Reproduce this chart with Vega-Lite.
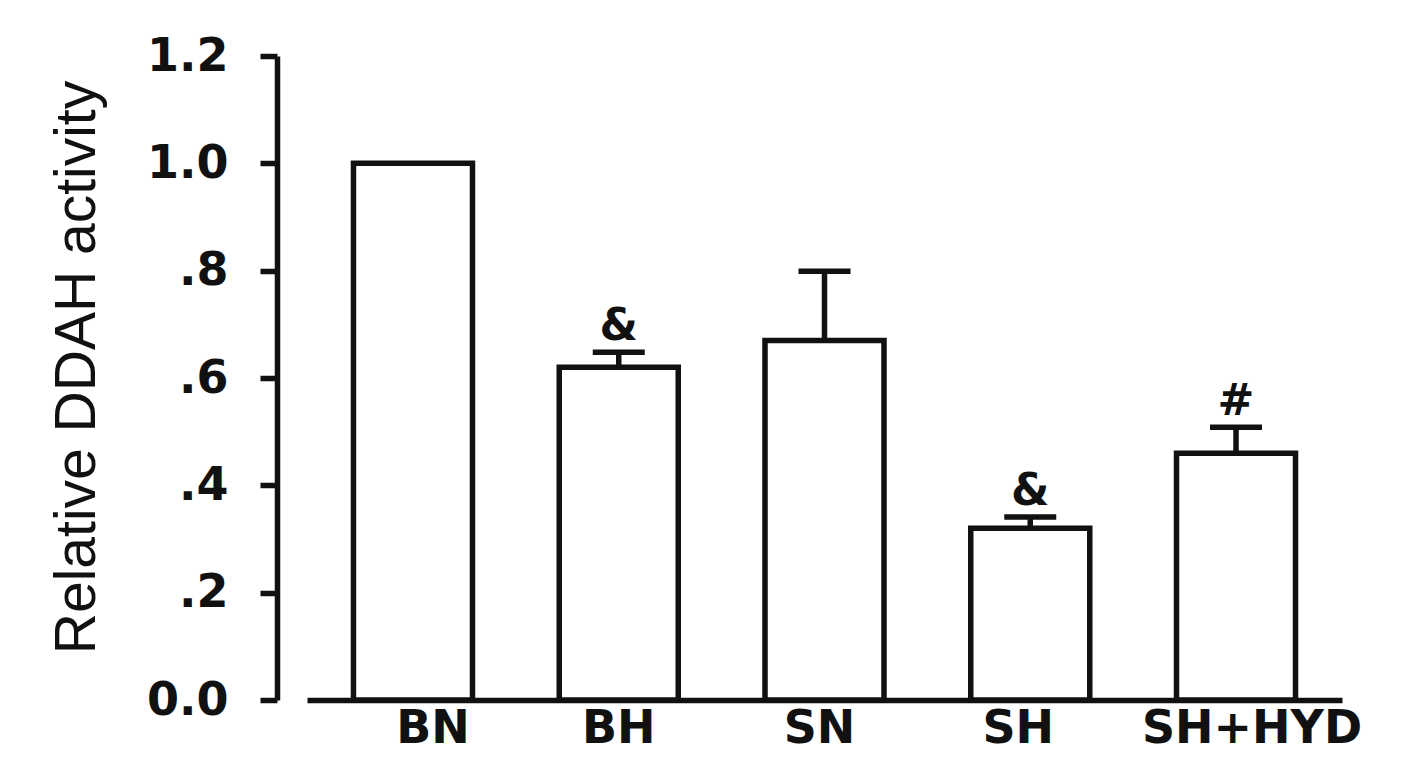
{
  "$schema": "https://vega.github.io/schema/vega-lite/v6.json",
  "autosize": {"type": "none"},
  "padding": {"left": 307, "top": 56, "right": 69, "bottom": 67},
  "width": 1035,
  "height": 644,
  "background": "white",
  "data": {
    "values": [
      {"group": "BN", "value": 1.0, "upper": null, "sig": ""},
      {"group": "BH", "value": 0.62, "upper": 0.648, "sig": "&"},
      {"group": "SN", "value": 0.67, "upper": 0.799, "sig": ""},
      {"group": "SH", "value": 0.32, "upper": 0.341, "sig": "&"},
      {"group": "SH+HYD", "value": 0.46, "upper": 0.508, "sig": "#"}
    ]
  },
  "encoding": {
    "x": {
      "field": "group",
      "type": "nominal",
      "sort": null,
      "scale": {"paddingInner": 0.4216, "paddingOuter": 0.2259},
      "axis": {
        "title": null,
        "labelAngle": 0,
        "ticks": false,
        "domainColor": "#111",
        "domainWidth": 5.5,
        "labelFont": "DejaVu Sans",
        "labelFontWeight": "bold",
        "labelFontSize": 46,
        "labelColor": "#111",
        "labelPadding": 6,
        "labelLimit": 0,
        "labelBaseline": "top",
        "labelOffset": {"expr": "datum.value == 'BN' ? 20 : datum.value == 'SN' ? -5 : datum.value == 'SH' ? -12 : datum.value == 'SH+HYD' ? 16 : 0"}
      }
    }
  },
  "layer": [
    {
      "mark": {"type": "bar", "fill": "white", "stroke": "#111", "strokeWidth": 5.5},
      "encoding": {
        "y": {
          "field": "value",
          "type": "quantitative",
          "scale": {"domain": [0, 1.2], "nice": false, "zero": true},
          "axis": {
            "title": "Relative DDAH activity",
            "titleFont": "Liberation Sans",
            "titleFontWeight": "normal",
            "titleFontSize": 57,
            "titleColor": "#111",
            "titlePadding": 40,
            "titleY": 311,
            "values": [0, 0.2, 0.4, 0.6, 0.8, 1.0, 1.2],
            "labelExpr": "datum.value == 0 ? '0.0' : datum.value >= 0.99 ? format(datum.value, '.1f') : replace(format(datum.value, '.1f'), '0.', '.')",
            "offset": 30,
            "grid": false,
            "domainColor": "#111",
            "domainWidth": 5.5,
            "tickColor": "#111",
            "tickWidth": 5.5,
            "tickSize": 17,
            "labelFont": "DejaVu Sans",
            "labelFontWeight": "bold",
            "labelFontSize": 46,
            "labelColor": "#111",
            "labelPadding": 32
          }
        }
      }
    },
    {
      "transform": [{"filter": "datum.upper != null"}],
      "mark": {"type": "rule", "stroke": "#111", "strokeWidth": 5.5},
      "encoding": {
        "y": {"field": "value", "type": "quantitative"},
        "y2": {"field": "upper"}
      }
    },
    {
      "transform": [{"filter": "datum.upper != null"}],
      "mark": {"type": "tick", "color": "#111", "size": 52, "thickness": 5.5, "opacity": 1},
      "encoding": {
        "y": {"field": "upper", "type": "quantitative"}
      }
    },
    {
      "transform": [{"filter": "datum.sig != ''"}],
      "mark": {"type": "text", "font": "DejaVu Sans", "fontWeight": "bold", "fontSize": 44, "color": "#111", "baseline": "alphabetic", "dy": -12},
      "encoding": {
        "y": {"field": "upper", "type": "quantitative"},
        "text": {"field": "sig"}
      }
    }
  ],
  "config": {"view": {"stroke": null}}
}
